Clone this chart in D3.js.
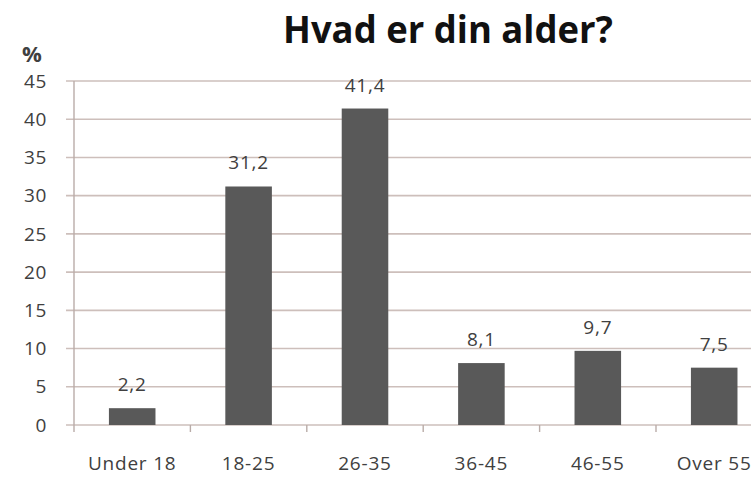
<!DOCTYPE html>
<head>
<meta charset="utf-8">
<style>
body { margin: 0; background: #fff; }
text { font-family: "Open Sans", Lato, sans-serif; fill: #404040; }
.grid line { stroke: #cdbfbb; stroke-width: 1.6px; }
.bar { fill: #595959; }
</style>
</head>
<body>
<script src="https://d3js.org/d3.v7.min.js"></script>
<script>

// data
var categories = ["Under 18", "18-25", "26-35", "36-45", "46-55", "Over 55"];
var values = [2.2, 31.2, 41.4, 8.1, 9.7, 7.5];
var labels = ["2,2", "31,2", "41,4", "8,1", "9,7", "7,5"];
var yTicks = [0, 5, 10, 15, 20, 25, 30, 35, 40, 45];

var width = 751, height = 477;

var svg = d3.select("body").append("svg")
    .attr("width", width)
    .attr("height", height);

// plot runs off the right edge, like the cropped original
var x = d3.scaleBand()
    .domain(categories)
    .range([74, 772.4])
    .paddingInner(0.6)
    .paddingOuter(0.3);

var y = d3.scaleLinear().domain([0, 45]).range([425, 81]);

// gridlines
svg.append("g")
    .attr("class", "grid")
    .selectAll("line")
    .data(yTicks)
  .enter().append("line")
    .attr("x1", 66)
    .attr("x2", width)
    .attr("y1", function(d) { return y(d); })
    .attr("y2", function(d) { return y(d); });

// y axis line
svg.append("line")
    .attr("x1", 74).attr("x2", 74)
    .attr("y1", y(45)).attr("y2", 432)
    .style("stroke", "#b9aca8").style("stroke-width", 1.4);

// x ticks between categories
var bounds = categories.slice(1).map(function(c) { return x(c) - x.step() * x.paddingInner() / 2; });
svg.selectAll(".xtick")
    .data(bounds)
  .enter().append("line")
    .attr("x1", function(d) { return d; })
    .attr("x2", function(d) { return d; })
    .attr("y1", y(0)).attr("y2", 432)
    .style("stroke", "#b9aca8").style("stroke-width", 1.4);

// y tick labels
svg.selectAll(".ylab")
    .data(yTicks)
  .enter().append("text")
    .attr("x", 47)
    .attr("y", function(d) { return y(d); })
    .attr("dy", "0.35em")
    .attr("text-anchor", "end")
    .style("font-size", "19px")
    .style("letter-spacing", "0.6px")
    .text(function(d) { return d; });

svg.append("text")
    .attr("x", 22).attr("y", 62)
    .style("font-size", "22px")
    .style("font-weight", "bold")
    .text("%");

// bars
svg.selectAll(".bar")
    .data(values)
  .enter().append("rect")
    .attr("class", "bar")
    .attr("x", function(d, i) { return x(categories[i]); })
    .attr("width", x.bandwidth())
    .attr("y", function(d) { return y(d); })
    .attr("height", function(d) { return y(0) - y(d); });

// value labels
svg.selectAll(".vlab")
    .data(values)
  .enter().append("text")
    .attr("x", function(d, i) { return x(categories[i]) + x.bandwidth() / 2; })
    .attr("y", function(d) { return y(d) - 17; })
    .attr("text-anchor", "middle")
    .style("font-size", "19px")
    .style("letter-spacing", "0.8px")
    .text(function(d, i) { return labels[i]; });

// category labels
svg.selectAll(".xlab")
    .data(categories)
  .enter().append("text")
    .attr("x", function(d) { return x(d) + x.bandwidth() / 2; })
    .attr("y", 470)
    .attr("text-anchor", "middle")
    .style("font-size", "19px")
    .style("letter-spacing", "0.8px")
    .text(function(d) { return d; });

// title
svg.append("text")
    .attr("x", 448).attr("y", 43)
    .attr("text-anchor", "middle")
    .attr("textLength", 330)
    .attr("lengthAdjust", "spacingAndGlyphs")
    .style("font-size", "38px")
    .style("font-weight", "bold")
    .style("fill", "#111")
    .text("Hvad er din alder?");

</script>
</body>
